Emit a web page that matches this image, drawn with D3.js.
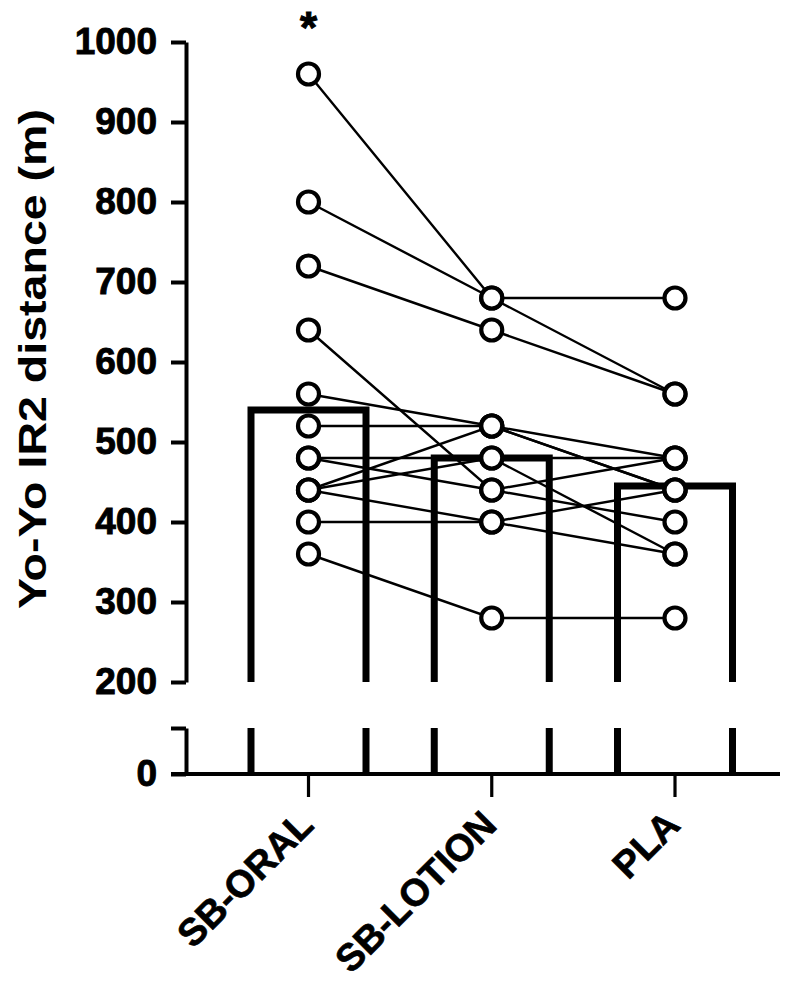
<!DOCTYPE html>
<html>
<head>
<meta charset="utf-8">
<script src="https://cdn.jsdelivr.net/npm/d3@7"></script>
<style>
  html, body { margin: 0; padding: 0; background: #fff; }
  svg { display: block; }
  text { font-family: "Liberation Sans", Arial, Helvetica, sans-serif; font-weight: bold; fill: #000; }
</style>
</head>
<body>
<svg id="chart" width="800" height="983"></svg>
<script>
// ---- data ----
const categories = ["SB-ORAL", "SB-LOTION", "PLA"];
const barValues = [540, 480, 445];
// individual subjects (paired lines)
const oralValues   = [960, 800, 720, 640, 560, 520, 480, 480, 440, 440, 440, 400, 360];
const lotionValues = [680, 680, 640, 440, 520, 520, 480, 440, 520, 480, 400, 400, 280];
const plaValues    = [680, 560, 560, 480, 480, 440, 480, 400, 440, 360, 440, 360, 280];
const upperTicks = [200, 300, 400, 500, 600, 700, 800, 900, 1000];
const lowerTicks = [0, 57.5];
const yLabel = "Yo-Yo IR2 distance (m)";
const sigMark = "*";

// ---- layout ----
const svg = d3.select("#chart");
const axisX = 186;
const x = d3.scalePoint().domain(categories).range([308.5, 675]);
const yUp = d3.scaleLinear().domain([200, 1000]).range([682, 42]);
const yLow = d3.scaleLinear().domain([0, 57.5]).range([774, 728]);
const barHalf = 57.5;
const fontSize = 37;

const subjects = oralValues.map((v, i) => [v, lotionValues[i], plaValues[i]]);

// bars (open rectangles, broken at the axis break)
const gBars = svg.append("g");
categories.forEach((c, i) => {
  const cx = x(c), v = barValues[i];
  const l = cx - barHalf, r = cx + barHalf;
  gBars.append("path")
    .attr("d", `M${l},${yUp(200)}V${yUp(v)}H${r}V${yUp(200)}`)
    .attr("fill", "none").attr("stroke", "#000").attr("stroke-width", 7)
    .attr("stroke-linejoin", "miter");
  [l, r].forEach(px => {
    gBars.append("line")
      .attr("x1", px).attr("x2", px)
      .attr("y1", yLow(57.5)).attr("y2", yLow(0))
      .attr("stroke", "#000").attr("stroke-width", 7);
  });
});

// subject lines
const line = d3.line().x((d, j) => x(categories[j])).y(d => yUp(d));
svg.append("g").selectAll("path").data(subjects).join("path")
  .attr("d", line).attr("fill", "none").attr("stroke", "#000").attr("stroke-width", 2.4);

// circles
const pts = [];
subjects.forEach(s => s.forEach((v, j) => pts.push({c: categories[j], v})));
svg.append("g").selectAll("circle").data(pts).join("circle")
  .attr("cx", d => x(d.c)).attr("cy", d => yUp(d.v)).attr("r", 10.5)
  .attr("fill", "#fff").attr("stroke", "#000").attr("stroke-width", 4.2);

// upper y axis
const gUp = svg.append("g").attr("transform", `translate(${axisX},0)`)
  .call(d3.axisLeft(yUp).tickValues(upperTicks).tickSize(15).tickSizeOuter(0).tickPadding(14).tickFormat(d3.format("d")));
// lower y axis
const gLow = svg.append("g").attr("transform", `translate(${axisX},0)`)
  .call(d3.axisLeft(yLow).tickValues(lowerTicks).tickSize(15).tickSizeOuter(0).tickPadding(14).tickFormat(d => d === 0 ? "0" : ""));
[gUp, gLow].forEach(g => {
  g.select(".domain").attr("stroke", "#000").attr("stroke-width", 4);
  g.selectAll(".tick line").attr("stroke", "#000").attr("stroke-width", 4);
  g.selectAll(".tick text").style("font-size", fontSize + "px").attr("fill", "#000")
    .attr("stroke", "#000").attr("stroke-width", 0.9);
});

// x axis line
svg.append("line").attr("x1", axisX - 15).attr("x2", 780)
  .attr("y1", yLow(0)).attr("y2", yLow(0))
  .attr("stroke", "#000").attr("stroke-width", 4);
// x ticks
svg.append("g").selectAll("line").data(categories).join("line")
  .attr("x1", d => x(d)).attr("x2", d => x(d))
  .attr("y1", yLow(0)).attr("y2", yLow(0) + 23)
  .attr("stroke", "#000").attr("stroke-width", 3.2);
// x labels
svg.append("g").selectAll("text").data(categories).join("text")
  .attr("transform", d => `translate(${x(d) + 7},827) rotate(-45)`)
  .attr("text-anchor", "end")
  .style("font-size", "38px")
  .attr("stroke", "#000").attr("stroke-width", 0.7)
  .text(d => d);

// y label
svg.append("text")
  .attr("transform", `translate(46,${(618 + 100) / 2}) rotate(-90)`)
  .attr("text-anchor", "middle")
  .style("font-size", "39px")
  .attr("textLength", 500)
  .attr("lengthAdjust", "spacingAndGlyphs")
  .text(yLabel);

// significance mark
svg.append("text")
  .attr("x", x(categories[0])).attr("y", 43)
  .attr("text-anchor", "middle")
  .style("font-size", "44px")
  .attr("stroke", "#000").attr("stroke-width", 1)
  .text(sigMark);
</script>
</body>
</html>
